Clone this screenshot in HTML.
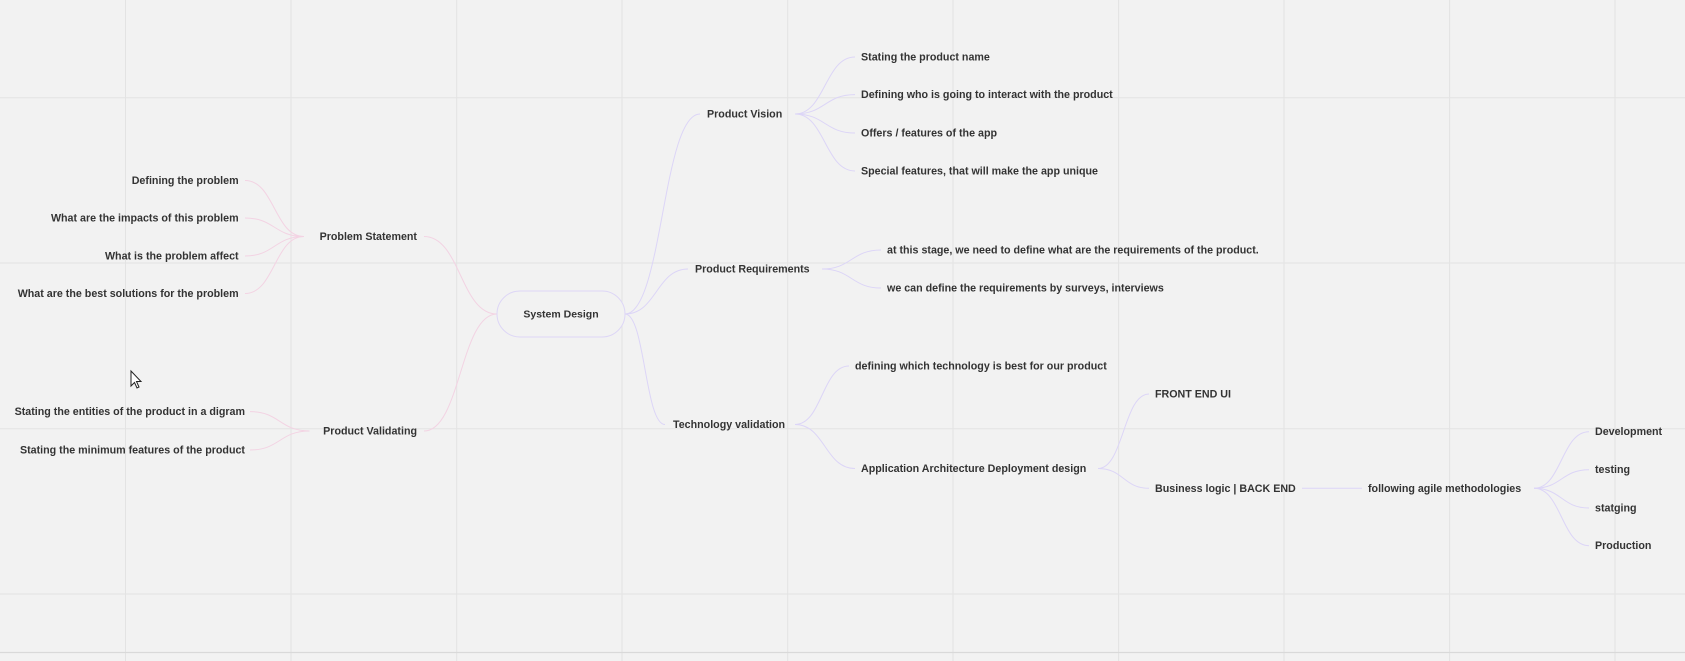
<!DOCTYPE html>
<html><head><meta charset="utf-8"><style>
html,body{margin:0;padding:0;background:#f2f2f2;}
svg{display:block;font-family:"Liberation Sans",sans-serif;}
</style></head><body>
<svg id="map" width="1685" height="661" viewBox="0 0 1685 661" xmlns="http://www.w3.org/2000/svg">
<rect x="0" y="0" width="1685" height="661" fill="#f2f2f2"/>
<g id="grid"></g>
<g id="links"></g>
<rect x="497" y="291" width="128" height="46" rx="23" fill="#f2f2f2" stroke="#ddd6f6" stroke-width="1"/>
<text x="561" y="314.5" text-anchor="middle" dominant-baseline="central" font-size="10.5" font-weight="bold" fill="#333">System Design</text>
<g id="nodes"></g>
<path d="M131 371 L131 386 L134.5 382.5 L137 388 L139 387 L136.5 381.5 L141 381.5 Z" fill="#fff" stroke="#222" stroke-width="1"/>
</svg>
<script>
const NS='http://www.w3.org/2000/svg';
const gridX=[125.5,291,456.7,622,787.7,953,1118.6,1284,1449.6,1615];
const gridY=[97.8,263,428.8,594];
const nodeLabels=["Problem Statement","Defining the problem","What are the impacts of this problem","What is the problem affect","What are the best solutions for the problem","Product Validating","Stating the entities of the product in a digram","Stating the minimum features of the product","Product Vision","Stating the product name","Defining who is going to interact with the product","Offers / features of the app","Special features, that will make the app unique","Product Requirements","at this stage, we need to define what are the requirements of the product.","we can define the requirements by surveys, interviews","Technology validation","defining which technology is best for our product","Application Architecture Deployment design","FRONT END UI","Business logic | BACK END","following agile methodologies","Development","testing","statging","Production"];
const nodeX=[417,238.6,238.6,238.6,238.6,417,245,245,707,861,861,861,861,695,887,887,673,855,861,1155,1155,1368,1595,1595,1595,1595];
const nodeY=[236.5,180.5,218,256,293.5,431,411.6,450,114,57,94.6,133,171,269,250,288,424.5,366,468.5,394,488.3,488.3,431.7,469.7,508,545.7];
const nodeAnchor=["end","end","end","end","end","end","end","end","start","start","start","start","start","start","start","start","start","start","start","start","start","start","start","start","start","start"];
const linkX1=[497,497,304,304,304,304,309.5,309.5,625,625,625,795,795,795,795,822,822,795,795,1098,1098,1302,1534,1534,1534,1534];
const linkY1=[314,314,236.5,236.5,236.5,236.5,431,431,314,314,314,114,114,114,114,269,269,424.5,424.5,468.5,468.5,488.3,488.3,488.3,488.3,488.3];
const linkX2=[424,424,245,245,245,245,250,250,700,688,665,855,855,855,855,881,881,849,855,1149,1149,1362,1589,1589,1589,1589];
const linkY2=[236.5,431,180.5,218,256,293.5,411.6,450,114,269,424.5,57,94.6,133,171,250,288,366,468.5,394,488.3,488.3,431.7,469.7,508,545.7];
const pink='#f3d3e3', lav='#dcd5f7';
const grid=document.getElementById('grid');
gridX.forEach(x=>{const l=document.createElementNS(NS,'line');


l.setAttribute('x1',x);l.setAttribute('x2',x);l.setAttribute('y1',0);l.setAttribute('y2',661);l.setAttribute('stroke','#e3e3e3');l.setAttribute('stroke-width','1');grid.appendChild(l);});
gridY.forEach(y=>{const l=document.createElementNS(NS,'line');


l.setAttribute('x1',0);l.setAttribute('x2',1685);l.setAttribute('y1',y);l.setAttribute('y2',y);l.setAttribute('stroke','#e3e3e3');l.setAttribute('stroke-width','1');grid.appendChild(l);});
const bl=document.createElementNS(NS,'line');


bl.setAttribute('x1',0);bl.setAttribute('x2',1685);bl.setAttribute('y1',652.5);bl.setAttribute('y2',652.5);bl.setAttribute('stroke','#d9d9d9');bl.setAttribute('stroke-width','1.2');grid.appendChild(bl);
const links=document.getElementById('links');
for(let i=0;i<linkX1.length;i++){
 const x1=linkX1[i],y1=linkY1[i],x2=linkX2[i],y2=linkY2[i],mx=(x1+x2)/2;
 const p=document.createElementNS(NS,'path');
 
 
 p.setAttribute('d',`M${x1} ${y1} C${mx} ${y1} ${mx} ${y2} ${x2} ${y2}`);
 p.setAttribute('fill','none');p.setAttribute('stroke',x2<x1?pink:lav);p.setAttribute('stroke-width','1');
 links.appendChild(p);
}
const nodes=document.getElementById('nodes');
for(let i=0;i<nodeLabels.length;i++){
 const t=document.createElementNS(NS,'text');
 
 
 t.setAttribute('x',nodeX[i]);t.setAttribute('y',nodeY[i]+0.5);
 t.setAttribute('text-anchor',nodeAnchor[i]);t.setAttribute('dominant-baseline','central');
 t.setAttribute('font-size','10.7');t.setAttribute('font-weight','bold');t.setAttribute('fill','#333');
 t.textContent=nodeLabels[i];nodes.appendChild(t);
}
</script>
</body></html>
